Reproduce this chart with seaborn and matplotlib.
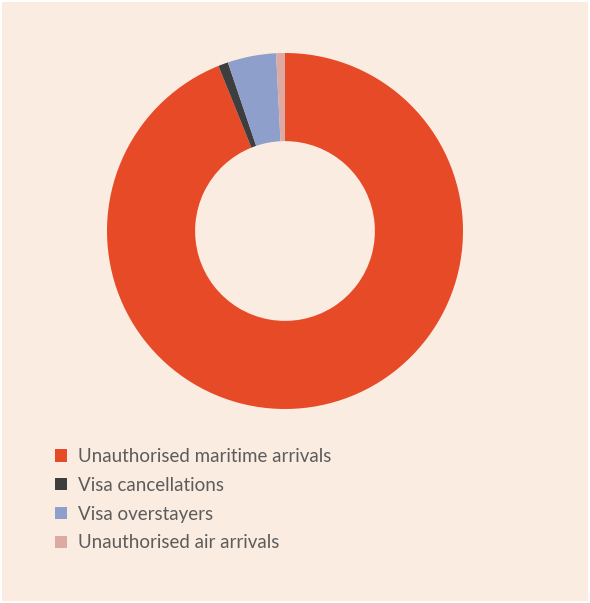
import matplotlib
matplotlib.use("Agg")
import matplotlib.pyplot as plt
import matplotlib.patches as mpatches
import seaborn as sns

# data (share of unlawful non-citizens by pathway)
categories = ["Unauthorised maritime arrivals", "Visa cancellations",
              "Visa overstayers", "Unauthorised air arrivals"]
shares = [93.9, 0.9, 4.4, 0.8]
colors = ["#E64A27", "#3E3E3E", "#8F9FCB", "#DDA9A3"]

BG = "#FBECE2"
TEXT = "#5C5C5C"

sns.set_theme(style="white")
plt.rcParams["font.family"] = ["Lato", "DejaVu Sans"]

W, H = 590, 603
fig = plt.figure(figsize=(W / 100, H / 100), dpi=100)
fig.patch.set_facecolor("white")
fig.patches.append(mpatches.Rectangle((2 / W, 2 / H), 1 - 4 / W, 1 - 4 / H,
                                      transform=fig.transFigure,
                                      facecolor=BG, edgecolor="none", zorder=-1))

cx, cy, r = 285, 231, 178
ax = fig.add_axes([(cx - r) / W, 1 - (cy + r) / H, 2 * r / W, 2 * r / H])
ax.pie(shares, colors=sns.color_palette(colors), startangle=90, counterclock=False,
       radius=1, wedgeprops=dict(width=0.495, edgecolor="none"))
ax.set_xlim(-1, 1); ax.set_ylim(-1, 1)
ax.set_aspect("equal")
ax.axis("off")

handles = [mpatches.Patch(facecolor=c, edgecolor="none", label=l)
           for c, l in zip(colors, categories)]
fig.legend(handles=handles, loc="upper left", bbox_to_anchor=(55 / W, 1 - 448 / H),
           frameon=False, fontsize=13.5, labelcolor=TEXT, handlelength=0.64,
           handleheight=0.64, handletextpad=0.6, labelspacing=0.63,
           borderaxespad=0, borderpad=0)

plt.savefig("out.png", dpi=100, facecolor=fig.get_facecolor())
